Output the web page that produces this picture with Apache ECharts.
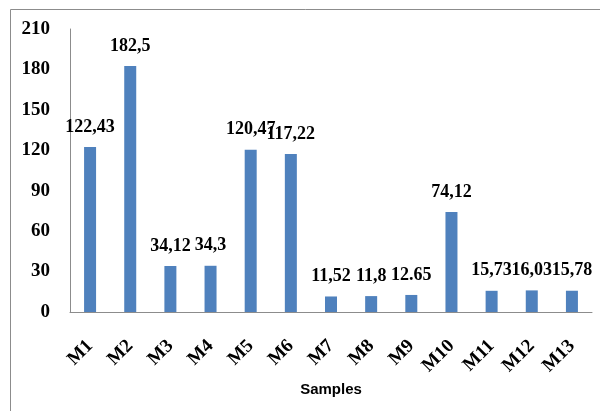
<!DOCTYPE html>
<html><head><meta charset="utf-8">
<script src="https://cdn.jsdelivr.net/npm/echarts@6/dist/echarts.min.js"></script>
<style>html,body{margin:0;padding:0;background:#fff}#c{width:600px;height:411px}</style>
</head><body><div id="c"></div>
<script>
const categories = ['M1','M2','M3','M4','M5','M6','M7','M8','M9','M10','M11','M12','M13'];
const values = [122.43, 182.5, 34.12, 34.3, 120.47, 117.22, 11.52, 11.8, 12.65, 74.12, 15.73, 16.03, 15.78];
const valueLabels = ['122,43','182,5','34,12','34,3','120,47','117,22','11,52','11,8','12.65','74,12','15,73','16,03','15,78'];
const yTicks = [0, 30, 60, 90, 120, 150, 180, 210];

const chart = echarts.init(document.getElementById('c'), null, {renderer: 'canvas'});
const serif = '"Liberation Serif", "Times New Roman", serif';
chart.setOption({
  animation: false,
  backgroundColor: '#fff',
  graphic: [{type: 'rect', shape: {x: 10.5, y: 9.5, width: 620, height: 420}, style: {fill: 'none', stroke: '#8c8c8c', lineWidth: 1}, silent: true}],
  grid: {left: 70, right: 8, top: 29, bottom: 99},
  xAxis: {
    type: 'category', data: categories,
    name: 'Samples', nameLocation: 'middle', nameGap: 67,
    nameTextStyle: {fontFamily: '"Liberation Sans", Arial, sans-serif', fontWeight: 'bold', fontSize: 15, color: '#000'},
    axisLine: {lineStyle: {color: '#8c8c8c'}},
    axisTick: {show: false},
    axisLabel: {rotate: 45, interval: 0, margin: 31, fontFamily: serif, fontWeight: 'bold', fontSize: 19, color: '#000'}
  },
  yAxis: {
    type: 'value', min: yTicks[0], max: yTicks[yTicks.length - 1], interval: 30,
    axisLine: {show: true, lineStyle: {color: '#8c8c8c'}},
    axisTick: {show: false},
    splitLine: {show: false},
    axisLabel: {margin: 20, fontFamily: serif, fontWeight: 'bold', fontSize: 19, color: '#000'}
  },
  series: [{
    type: 'bar', data: values, barWidth: 12,
    itemStyle: {color: '#4F81BD'},
    label: {show: true, position: 'top', distance: 11, fontFamily: serif, fontWeight: 'bold', fontSize: 18, color: '#000',
      formatter: p => valueLabels[p.dataIndex]}
  }]
});
</script></body></html>
